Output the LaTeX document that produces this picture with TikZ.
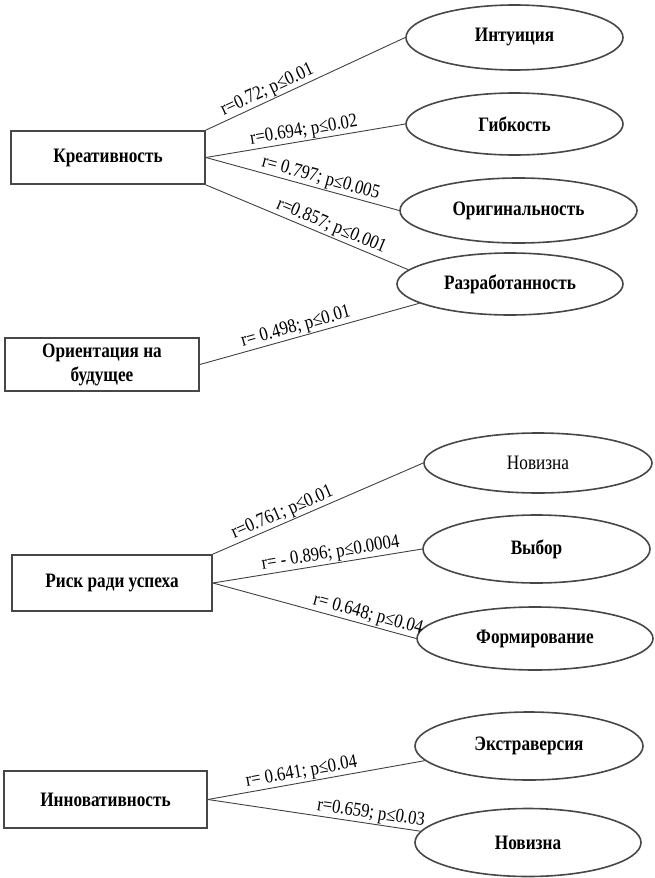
\documentclass[tikz,border=0pt]{standalone}
\usepackage{fontspec}
\setmainfont{Liberation Serif}
\newfontfamily\boxfont[FakeStretch=0.84]{Liberation Serif}
\newfontfamily\lblfont[FakeStretch=0.86]{Liberation Serif}
\usetikzlibrary{shapes.geometric}
\tikzset{
  factor/.style={draw=black!72, line width=1.8pt, inner sep=0pt, align=center,
    font=\boxfont\fontsize{20.5}{24}\selectfont\bfseries},
  oval/.style={ellipse, draw=black!72, line width=1.6pt, inner sep=0pt,
    font=\boxfont\fontsize{20.5}{24}\selectfont\bfseries},
  link/.style={draw=black!75, line width=0.9pt},
  lbl/.style={sloped, above, inner sep=1pt, font=\lblfont\fontsize{19.5}{21}\selectfont}
}
\begin{document}
\begin{tikzpicture}[x=1pt,y=-1pt]
\useasboundingbox (0,0) rectangle (655,878);
\node[factor, minimum width=194pt, minimum height=53pt] (kreat) at (108,157.5) {Креативность};
\node[factor, minimum width=194pt, minimum height=53pt] (orient) at (102,364.5) {Ориентация на\\будущее};
\node[factor, minimum width=200pt, minimum height=56pt] (risk) at (112,583) {Риск ради успеха};
\node[factor, minimum width=203pt, minimum height=57pt] (innov) at (105.5,799.5) {Инновативность};
\node[oval, minimum width=217pt, minimum height=65pt] (intuit) at (514.5,37.5) {Интуиция};
\node[oval, minimum width=217pt, minimum height=62pt] (gibk) at (514.5,124) {Гибкость};
\node[oval, minimum width=237pt, minimum height=65pt] (orig) at (518.5,210.5) {Оригинальность};
\node[oval, minimum width=226pt, minimum height=62pt] (razr) at (510,284) {Разработанность};
\node[oval, minimum width=228pt, minimum height=60pt, font=\boxfont\fontsize{20.5}{24}\selectfont] (novA) at (538,463) {Новизна};
\node[oval, minimum width=227pt, minimum height=68pt] (vybor) at (536.5,549) {Выбор};
\node[oval, minimum width=236pt, minimum height=63pt] (form) at (535,638.5) {Формирование};
\node[oval, minimum width=228pt, minimum height=68pt] (ekstr) at (529,746) {Экстраверсия};
\node[oval, minimum width=226pt, minimum height=68pt] (novB) at (528,842.5) {Новизна};
\draw[link] (kreat.north east) -- node[lbl, pos=.33]{r=0.72; p≤0.01} (intuit.west);
\draw[link] (kreat.east) -- node[lbl, pos=.5]{r=0.694; p≤0.02} (gibk.west);
\draw[link] (kreat.east) -- node[lbl, pos=.58]{r= 0.797; p≤0.005} (orig.west);
\draw[link] (kreat.south east) -- node[lbl, pos=.6]{r=0.857; p≤0.001} (razr.172);
\draw[link] (orient.east) -- node[lbl, pos=.45]{r= 0.498; p≤0.01} (razr.192);
\draw[link] (risk.north east) -- node[lbl, pos=.35]{r=0.761; p≤0.01} (novA.west);
\draw[link] (risk.east) -- node[lbl, pos=.57]{r= - 0.896; p≤0.0004} (vybor.west);
\draw[link] (risk.east) -- node[lbl, pos=.75]{r= 0.648; p≤0.04} (form.west);
\draw[link] (innov.east) -- node[lbl, pos=.44]{r= 0.641; p≤0.04} (ekstr.188);
\draw[link] (innov.east) -- node[lbl, pos=.76]{r=0.659; p≤0.03} (novB.174);
\end{tikzpicture}
\end{document}
